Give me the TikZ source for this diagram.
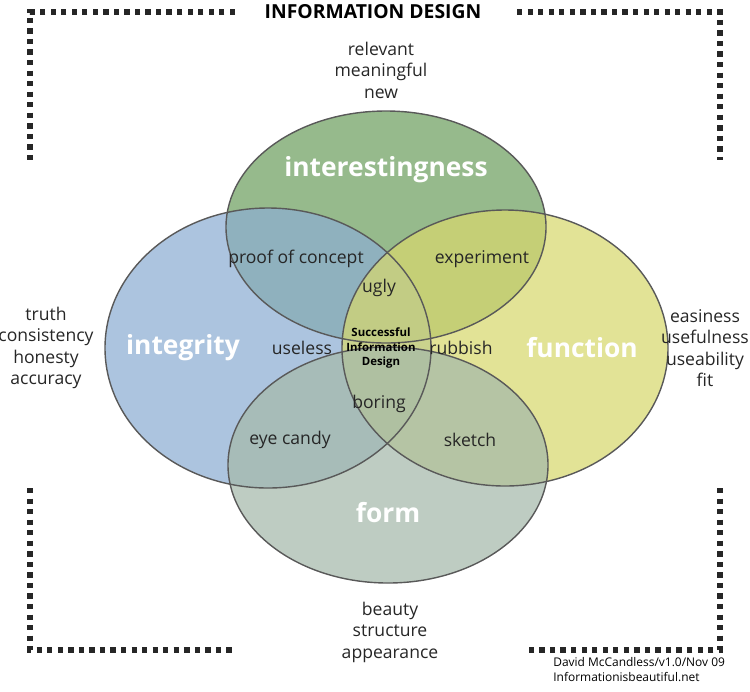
\documentclass[tikz,border=0pt]{standalone}
\usepackage{fontspec}
\setmainfont{Open Sans}
\begin{document}
\begin{tikzpicture}[x=0.02cm,y=-0.02cm,
  venn/.style={fill opacity=0.72},
  rim/.style={draw=gray!70!black,line width=0.8pt},
  big/.style={text=white,font=\bfseries\fontsize{15}{18}\selectfont},
  lab/.style={font=\fontsize{10}{12.2}\selectfont,align=center,text=black!85},
  brk/.style={line width=3pt,dash pattern=on 3pt off 3pt,black!85}]
\useasboundingbox (0,0) rectangle (750,691);
\fill[venn,fill={rgb,255:red,110;green,160;blue,95}] (386,227) ellipse [x radius=160,y radius=116];
\fill[venn,fill={rgb,255:red,140;green,173;blue,210}] (268,348) ellipse [x radius=163,y radius=140];
\fill[venn,fill={rgb,255:red,215;green,216;blue,110}] (505,348) ellipse [x radius=163,y radius=138];
\fill[venn,fill={rgb,255:red,165;green,185;blue,170}] (388,465) ellipse [x radius=160,y radius=118];
\draw[rim] (386,227) ellipse [x radius=160,y radius=116];
\draw[rim] (268,348) ellipse [x radius=163,y radius=140];
\draw[rim] (505,348) ellipse [x radius=163,y radius=138];
\draw[rim] (388,465) ellipse [x radius=160,y radius=118];
\draw[brk] (235,12) -- (30,12) -- (30,160);
\draw[brk] (517,12) -- (720,12) -- (720,160);
\draw[brk] (30,488) -- (30,650) -- (235,650);
\draw[brk] (720,488) -- (720,650) -- (527,650);
\node[font=\bfseries\fontsize{11}{13}\selectfont] (title) at (373,12) {INFORMATION DESIGN};
\node[lab] (l1) at (381,70) {relevant\\meaningful\\new};
\node[lab,inner sep=1pt] (l2) at (46,348) {truth\\consistency\\honesty\\accuracy};
\node[lab] (l3) at (705,348) {easiness\\usefulness\\useability\\fit};
\node[lab] (l4) at (390,632) {beauty\\structure\\appearance};
\node[big] (ti) at (386,170) {interestingness};
\node[big] (tint) at (183,348) {integrity};
\node[big] (tf) at (582,348) {function};
\node[big] (tform) at (388,513) {form};
\node[lab] (a) at (296,259) {proof of concept};
\node[lab] (b) at (482,259) {experiment};
\node[lab] (c) at (379,288) {ugly};
\node[lab] (d) at (302,348) {useless};
\node[lab] (e) at (461,348) {rubbish};
\node[lab] (f) at (379,404) {boring};
\node[lab] (g) at (290,440) {eye candy};
\node[lab] (h) at (470,440) {sketch};
\node[font=\bfseries\fontsize{6.5}{8}\selectfont,align=center] (s) at (381,348) {Successful\\Information\\Design};
\node[font=\fontsize{6.8}{8.5}\selectfont,align=left,anchor=north west,inner sep=0pt] (cr) at (553,657) {David McCandless/v1.0/Nov 09\\Informationisbeautiful.net};
\end{tikzpicture}
\end{document}
